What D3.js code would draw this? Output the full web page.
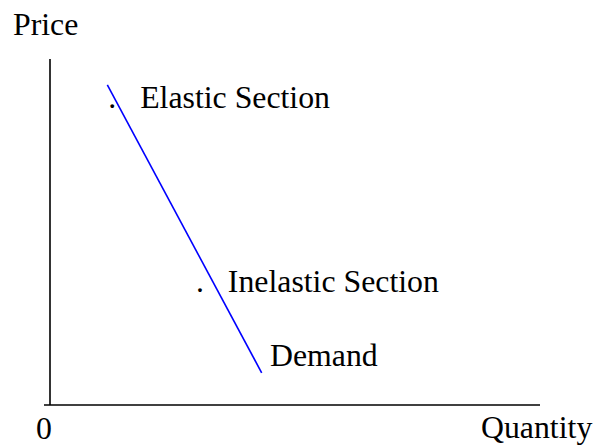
<!DOCTYPE html>
<html>
<head>
<meta charset="utf-8">
<script src="https://cdnjs.cloudflare.com/ajax/libs/d3/7.8.5/d3.min.js"></script>
<style>
  body { margin: 0; background: #fff; }
  text { font-family: "Liberation Serif", "Times New Roman", serif; font-size: 31.8px; fill: #000; }
</style>
</head>
<body>
<div id="chart"></div>
<script>
var svgWidth = 598;
var svgHeight = 447;

// demand curve end points (quantity, price)
var demandQ = [1.17, 4.32];
var demandP = [9.25, 0.93];

// labels placed in data units
var labelText = [".", "Elastic Section", ".", "Inelastic Section", "Demand"];
var labelQ = [1.19, 1.84, 2.98, 3.63, 4.49];
var labelP = [8.58, 8.58, 3.27, 3.27, 1.13];

var svg = d3.select("#chart")
  .append("svg")
  .attr("width", svgWidth)
  .attr("height", svgHeight);

// scales: origin at (50, 405)
var xScale = d3.scaleLinear().domain([0, 10]).range([50, 540]);
var yScale = d3.scaleLinear().domain([0, 10]).range([405, 59]);

// axes, drawn as plain lines like the original
svg.append("line")
  .attr("x1", xScale(0))
  .attr("x2", xScale(0))
  .attr("y1", yScale(10))
  .attr("y2", yScale(0))
  .attr("stroke", "#000")
  .attr("stroke-width", 1.6);

svg.append("line")
  .attr("x1", xScale(0) - 6)
  .attr("x2", xScale(10))
  .attr("y1", yScale(0))
  .attr("y2", yScale(0))
  .attr("stroke", "#000")
  .attr("stroke-width", 1.6);

// demand line
var line = d3.line()
  .x(d => xScale(d[0]))
  .y(d => yScale(d[1]));

svg.append("path")
  .datum(d3.zip(demandQ, demandP))
  .attr("d", line)
  .attr("fill", "none")
  .attr("stroke", "#0000ff")
  .attr("stroke-width", 1.6);

// labels
svg.selectAll(".lbl")
  .data(labelText)
  .enter()
  .append("text")
  .attr("class", "lbl")
  .attr("x", (d, i) => xScale(labelQ[i]))
  .attr("y", (d, i) => yScale(labelP[i]))
  .text(d => d);

// axis titles
svg.append("text").attr("x", 13).attr("y", 35).text("Price");
svg.append("text").attr("x", xScale(0)).attr("y", 439).attr("text-anchor", "middle").attr("dx", -6).text("0");
svg.append("text").attr("x", 481).attr("y", 438).text("Quantity");
</script>
</body>
</html>
